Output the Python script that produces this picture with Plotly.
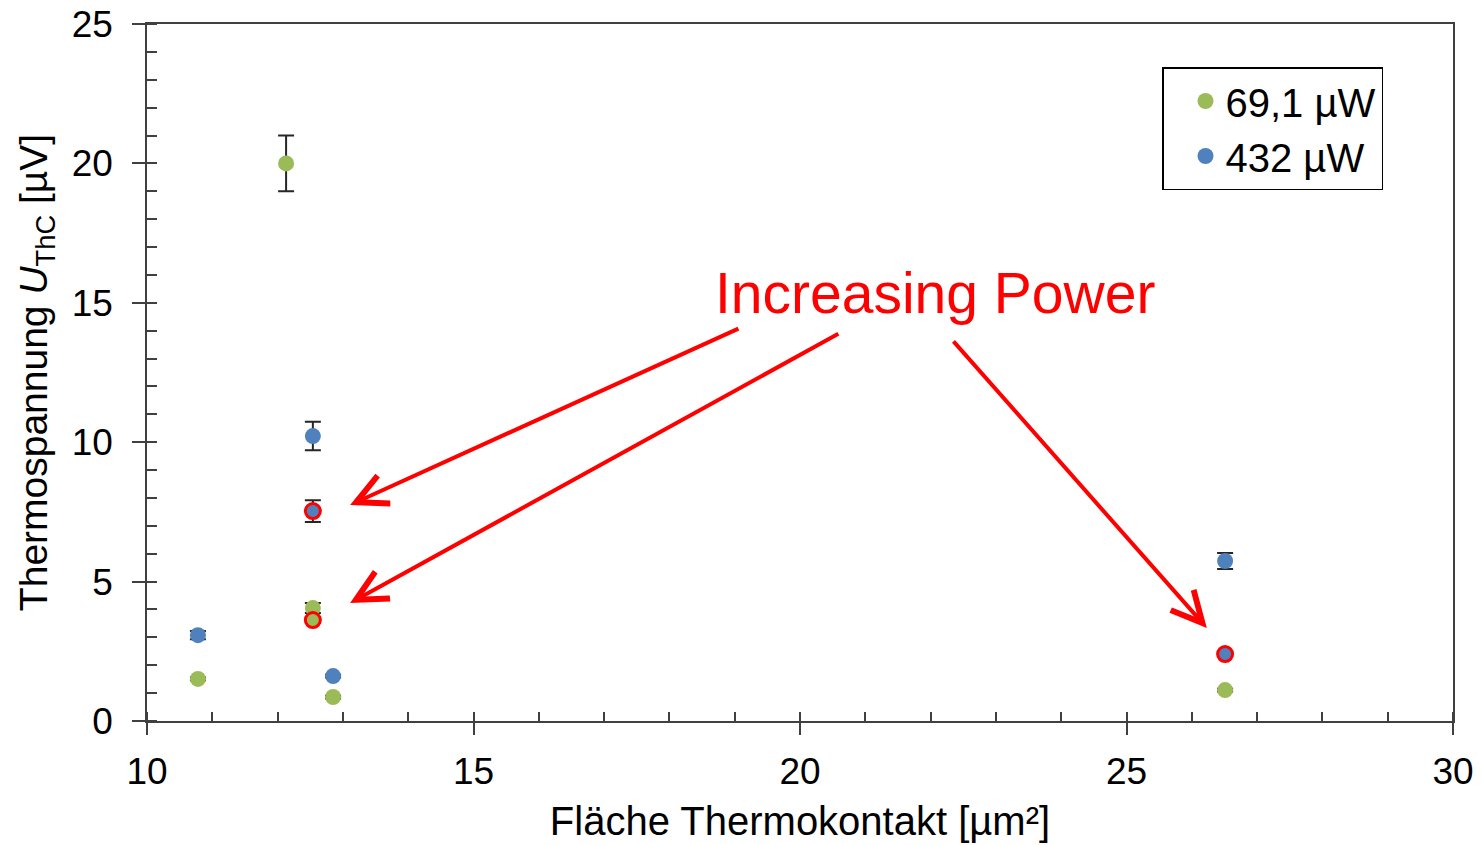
import plotly.graph_objects as go

# ---------------- data ----------------
series_names = ["69,1 µW", "432 µW"]
series_colors = ["#9BBB59", "#4F81BD"]

green_x = [10.78, 12.13, 12.54, 12.54, 12.85, 26.51]
green_y = [1.51, 20.0, 4.05, 3.62, 0.86, 1.11]
green_err = [0.05, 1.0, 0.18, 0.1, 0.05, 0.05]

blue_x = [10.78, 12.54, 12.54, 12.85, 26.51, 26.51]
blue_y = [3.08, 10.22, 7.53, 1.61, 5.74, 2.40]
blue_err = [0.15, 0.51, 0.39, 0.05, 0.29, 0.05]

# indices of highlighted (red-ringed) points
green_highlight = [3]
blue_highlight = [2, 5]

x_tick_vals = [10, 15, 20, 25, 30]
y_tick_vals = [0, 5, 10, 15, 20, 25]

annotation_text = "Increasing Power"
# arrows: (tail_x, tail_y, head_x, head_y) in data units
arrows = [
    (19.08, 14.10, 13.11, 7.75),
    (20.61, 13.92, 13.11, 4.23),
    (22.33, 13.67, 26.23, 3.34),
]

FONT = "Liberation Sans, Arial, sans-serif"
AXIS_COLOR = "#404040"

fig = go.Figure()

for name, color, xs, ys, errs in [
    (series_names[0], series_colors[0], green_x, green_y, green_err),
    (series_names[1], series_colors[1], blue_x, blue_y, blue_err),
]:
    fig.add_trace(go.Scatter(
        x=xs, y=ys, mode="markers", name=name,
        marker=dict(color=color, size=16, line=dict(width=0)),
        error_y=dict(type="data", array=errs, visible=True,
                     color="#262626", thickness=2, width=8),
    ))

hx = [green_x[i] for i in green_highlight] + [blue_x[i] for i in blue_highlight]
hy = [green_y[i] for i in green_highlight] + [blue_y[i] for i in blue_highlight]
fig.add_trace(go.Scatter(
    x=hx, y=hy, mode="markers", showlegend=False, hoverinfo="skip",
    marker=dict(symbol="circle-open", size=15, color="#FF0000",
                line=dict(color="#FF0000", width=3)),
))

# invisible trace to host overlay axes (inside part of the crossing major ticks)
fig.add_trace(go.Scatter(x=[None], y=[None], xaxis="x2", yaxis="y2",
                         showlegend=False, hoverinfo="skip"))

fig.update_layout(
    width=1483, height=845,
    paper_bgcolor="white", plot_bgcolor="white",
    margin=dict(l=147, r=30, t=24, b=124, autoexpand=False),
    font=dict(family=FONT, size=36, color="#000000"),
    showlegend=True,
    legend=dict(
        x=(1162 - 147) / 1306, y=(721 - 67) / 697,
        xanchor="left", yanchor="top",
        bordercolor="#000000", borderwidth=1.5,
        bgcolor="white",
        font=dict(family=FONT, size=40, color="#000000"),
        indentation=22,
        entrywidth=190, entrywidthmode="pixels",
        tracegroupgap=0,
    ),
    xaxis=dict(
        range=[10, 30], tickvals=x_tick_vals, automargin=False,
        ticks="outside", ticklen=12, tickwidth=1.5, tickcolor=AXIS_COLOR,
        showline=True, linecolor=AXIS_COLOR, linewidth=1.5, mirror=True,
        showgrid=False, zeroline=False,
        tickfont=dict(size=37, family=FONT),
        ticklabelstandoff=5,
        minor=dict(dtick=1, ticks="inside", ticklen=9, tickwidth=1.5,
                   tickcolor=AXIS_COLOR, showgrid=False),
        title=dict(text="Fläche Thermokontakt [µm²]",
                   font=dict(size=40, family=FONT), standoff=16),
    ),
    yaxis=dict(
        range=[0, 25], tickvals=y_tick_vals, automargin=False,
        ticks="outside", ticklen=13, tickwidth=1.5, tickcolor=AXIS_COLOR,
        showline=True, linecolor=AXIS_COLOR, linewidth=1.5, mirror=True,
        showgrid=False, zeroline=False,
        tickfont=dict(size=37, family=FONT),
        ticklabelstandoff=12,
        minor=dict(dtick=1, ticks="inside", ticklen=10, tickwidth=1.5,
                   tickcolor=AXIS_COLOR, showgrid=False),
        title=dict(text="Thermospannung <i>U</i><sub>ThC</sub> [µV]",
                   font=dict(size=39, family=FONT), standoff=12),
    ),
    xaxis2=dict(overlaying="x", range=[10, 30], tickvals=x_tick_vals,
                ticks="inside", ticklen=9, tickwidth=1.5, tickcolor=AXIS_COLOR,
                showticklabels=False, showline=False, showgrid=False,
                zeroline=False, side="bottom", automargin=False),
    yaxis2=dict(overlaying="y", range=[0, 25], tickvals=y_tick_vals,
                ticks="inside", ticklen=10, tickwidth=1.5, tickcolor=AXIS_COLOR,
                showticklabels=False, showline=False, showgrid=False,
                zeroline=False, side="left", automargin=False),
)

fig.add_annotation(
    x=22.07, y=15.35, xref="x", yref="y", text=annotation_text,
    showarrow=False, font=dict(family=FONT, size=57, color="#FF0000"),
    xanchor="center", yanchor="middle",
)

for tx, ty, hx_, hy_ in arrows:
    fig.add_annotation(
        x=hx_, y=hy_, ax=tx, ay=ty, xref="x", yref="y", axref="x", ayref="y",
        text="", showarrow=True, arrowhead=5, arrowsize=1.5, arrowwidth=4,
        arrowcolor="#FF0000", standoff=0, startstandoff=0,
    )

fig.write_html("out.html")
